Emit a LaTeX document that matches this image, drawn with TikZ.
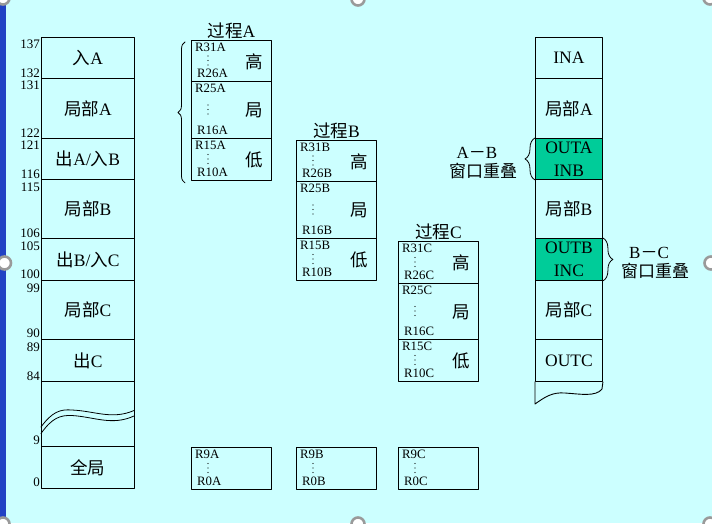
\documentclass[tikz,border=0pt]{standalone}
\usepackage{fontspec}
\setmainfont{Liberation Serif}
\newfontfamily\zhfont{Noto Sans CJK SC}
\usetikzlibrary{decorations.pathreplacing}
\definecolor{ScreenCyan}{HTML}{CCFFFF}
\definecolor{SideBlue}{HTML}{2142C4}
\definecolor{OverlapGreen}{HTML}{00CC99}
\definecolor{HandleGray}{HTML}{9A9A9A}
\newcommand{\zh}[1]{{\zhfont #1}}
\newcommand{\bigtext}{\fontsize{17.5}{23}\selectfont}
\tikzset{
  cell/.style={draw,line width=0.9pt,anchor=north west,inner sep=0pt,
               align=center,font=\bigtext},
  reg/.style={anchor=west,inner sep=0pt,font=\fontsize{12.8}{14}\selectfont},
  num/.style={anchor=east,inner sep=0pt,font=\fontsize{13}{15}\selectfont},
  bigchar/.style={inner sep=0pt,font=\bigtext},
  note/.style={inner sep=0pt,font=\fontsize{17}{20}\selectfont},
  bracedeco/.style={decorate,line width=0.8pt,
                    decoration={brace,amplitude=#1}},
  handle/.style={draw=HandleGray,fill=white,line width=2.6pt}
}
\newcommand{\regcell}[7]{%
  \node[cell,minimum width=80pt,minimum height={(#4-#3)*1pt}] (#1) at (#2,#3) {};
  \node[reg] (#1top) at ({#2+4},{#3+7.5}) {#5};
  \node[reg] (#1bot) at ({#2+6},{#4-7.5}) {#6};
  \foreach \k in {-1,0,1}{
    \fill ({#2+17},{(#3+#4)/2+4.5*\k}) circle (0.55);
  }
  \node[bigchar] (#1ch) at ({#2+63},{(#3+#4)/2+1}) {\zh{#7}};
}

\begin{document}
\begin{tikzpicture}[x=1pt,y=-1pt,line cap=round,line join=round]
  \useasboundingbox (0,0) rectangle (712,523);
  \fill[ScreenCyan] (0,0) rectangle (712,523);
  \fill[SideBlue] (0,0) rectangle (5.5,523);

  % left column
  \foreach \nm/\yt/\yb/\txt in {l1/37/78/{\zh{入}A},l2/78/138/{\zh{局部}A},
      l3/138/179/{\zh{出}A/\zh{入}B},l4/179/238/{\zh{局部}B},
      l5/238/280/{\zh{出}B/\zh{入}C},l6/280/339/{\zh{局部}C},
      l7/339/381/{\zh{出}C},l8/381/446/{},l9/446/488/{\zh{全局}}}{
    \node[cell,minimum width=93pt,minimum height={(\yb-\yt)*1pt}] (\nm) at (41,\yt) {\txt};
  }
  \draw[line width=0.8pt] (41,427) .. controls (52,412) and (60,409) .. (72,410)
    .. controls (95,411) and (112,420) .. (134,410.5);
  \draw[line width=0.8pt] (41,433.5) .. controls (52,418) and (60,415) .. (72,415.5)
    .. controls (95,417) and (112,426) .. (134,416);
  \foreach \y/\n in {44/137,73/132,85/131,133/122,145/121,174/116,187/115,
      233/106,246/105,274/100,288/99,333/90,347/89,376/84,440.5/9,482.5/0}{
    \node[num] (n\n) at (40,\y) {\n};
  }

  % processes
  \regcell{pa1}{191}{40}{81}{R31A}{R26A}{高}
  \regcell{pa2}{191}{81}{138}{R25A}{R16A}{局}
  \regcell{pa3}{191}{138}{180}{R15A}{R10A}{低}
  \regcell{pb1}{296}{140}{181}{R31B}{R26B}{高}
  \regcell{pb2}{296}{181}{238}{R25B}{R16B}{局}
  \regcell{pb3}{296}{238}{280}{R15B}{R10B}{低}
  \regcell{pc1}{398}{241}{283}{R31C}{R26C}{高}
  \regcell{pc2}{398}{283}{339}{R25C}{R16C}{局}
  \regcell{pc3}{398}{339}{381}{R15C}{R10C}{低}
  \regcell{ga}{191}{447}{489}{R9A}{R0A}{}
  \regcell{gb}{296}{447}{489}{R9B}{R0B}{}
  \regcell{gc}{398}{447}{489}{R9C}{R0C}{}
  \node[note,anchor=south,inner sep=1pt,font=\fontsize{17.5}{20}\selectfont] (ttlA) at (pa1.north) {\zh{过程}A};
  \node[note,anchor=south,inner sep=1pt,font=\fontsize{17.5}{20}\selectfont] (ttlB) at (pb1.north) {\zh{过程}B};
  \node[note,anchor=south,inner sep=1pt,font=\fontsize{17.5}{20}\selectfont] (ttlC) at (pc1.north) {\zh{过程}C};
  \draw[bracedeco=7pt] ([xshift=-6pt,yshift=-2pt]pa3.south west)
    -- ([xshift=-6pt,yshift=-2pt]pa1.north west);

  % right column
  \foreach \nm/\yt/\yb/\fc/\txt in {o1/37/78/none/{INA},o2/78/138/none/{\zh{局部}A},
      o3/138/179/OverlapGreen/{OUTA\\INB},o4/179/238/none/{\zh{局部}B},
      o5/238/280/OverlapGreen/{OUTB\\INC},o6/280/339/none/{\zh{局部}C},
      o7/339/381/none/{OUTC}}{
    \node[cell,fill=\fc,minimum width=67pt,minimum height={(\yb-\yt)*1pt}] (\nm) at (535,\yt) {\txt};
  }
  \draw[line width=0.9pt] (o7.south west) -- (535,404)
    .. controls (545,397) and (552,392) .. (565,393)
    .. controls (580,394) and (596,397) .. (602,389) -- (o7.south east);
  \draw[bracedeco=10pt] (o3.south west) -- (o3.north west);
  \draw[bracedeco=10pt] (o5.north east) -- (o5.south east);
  \node[note] (abName) at (477,153) {A\zh{－}B};
  \node[note] (abOver) at (483,171) {\zh{窗口重叠}};
  \node[note] (bcName) at (649,253) {B\zh{－}C};
  \node[note] (bcOver) at (655,271) {\zh{窗口重叠}};

  % screen handles
  \foreach \hx/\hy in {3/-2,358/-1,710/-2,4.5/263,711/263,3/524,358/524,710/524}{
    \draw[handle] (\hx,\hy) circle (6.5);
  }
\end{tikzpicture}
\end{document}
